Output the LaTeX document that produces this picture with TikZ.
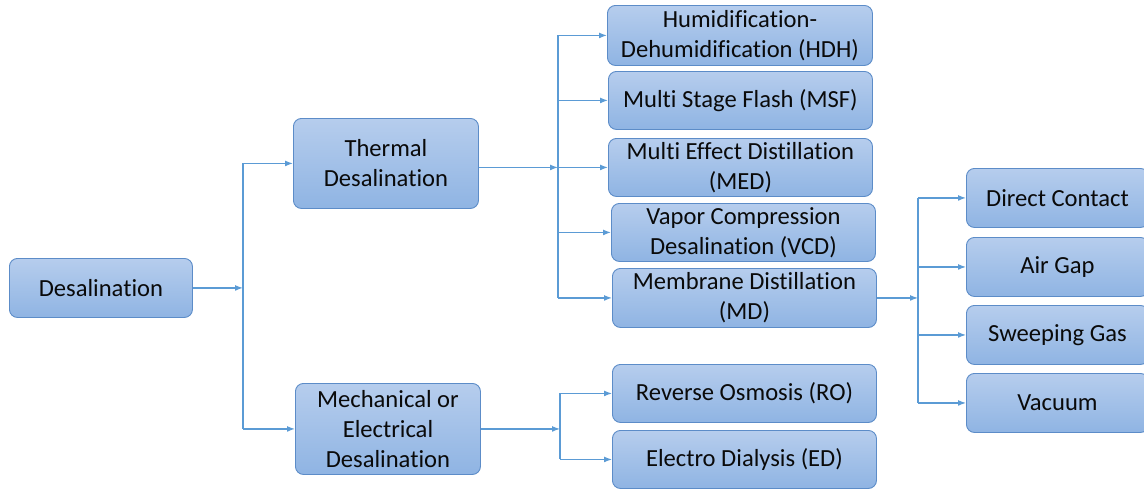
\documentclass[tikz,border=0pt]{standalone}
\usepackage{fontspec}
\setmainfont{Carlito}[Ligatures=NoCommon]
\usetikzlibrary{arrows.meta}
\definecolor{boxtop}{RGB}{182,205,237}
\definecolor{boxbot}{RGB}{143,180,227}
\definecolor{boxline}{RGB}{92,140,200}
\definecolor{wire}{RGB}{91,155,213}
\definecolor{txt}{RGB}{10,10,10}
\tikzset{
  box/.style={draw=boxline, line width=0.9pt, rounded corners=8pt, top color=boxtop, bottom color=boxbot,
    align=center, text=txt, font=\fontsize{24.6}{30}\selectfont, inner sep=0pt, anchor=north west},
  wireline/.style={draw=wire, line width=1.3pt},
  arr/.style={wireline, -{Latex[length=8pt,width=6pt]}}
}
\begin{document}
\begin{tikzpicture}[x=1pt,y=-1pt]
\useasboundingbox (0,0) rectangle (1144,488);
% boxes
\node[box, minimum width=183pt, minimum height=59pt] (des) at (9,258) {Desalination};
\node[box, minimum width=185pt, minimum height=90pt] (th) at (293,118) {Thermal\\Desalination};
\node[box, minimum width=185pt, minimum height=91pt] (me) at (295,383) {Mechanical or\\Electrical\\Desalination};
\node[box, minimum width=265pt, minimum height=60pt] (hdh) at (607,5) {Humidification-\\Dehumidification (HDH)};
\node[box, minimum width=264pt, minimum height=58pt] (msf) at (608,71) {Multi Stage Flash (MSF)};
\node[box, minimum width=264pt, minimum height=58pt] (med) at (608,138) {Multi Effect Distillation\\(MED)};
\node[box, minimum width=264pt, minimum height=58pt] (vcd) at (611,203) {Vapor Compression\\Desalination (VCD)};
\node[box, minimum width=264pt, minimum height=59pt] (md) at (612,268) {Membrane Distillation\\(MD)};
\node[box, minimum width=264pt, minimum height=58pt] (ro) at (612,364) {Reverse Osmosis (RO)};
\node[box, minimum width=264pt, minimum height=58pt] (ed) at (612,430) {Electro Dialysis (ED)};
\node[box, minimum width=182pt, minimum height=59pt] (dc) at (966,168) {Direct Contact};
\node[box, minimum width=182pt, minimum height=59pt] (ag) at (966,237) {Air Gap};
\node[box, minimum width=182pt, minimum height=59pt] (sg) at (966,305) {Sweeping Gas};
\node[box, minimum width=182pt, minimum height=59pt] (va) at (966,373) {Vacuum};
% bus positions
\coordinate (b1) at (243,0);
\coordinate (b2) at (558,0);
\coordinate (b3) at (918,0);
\coordinate (b4) at (560,0);
% desalination -> thermal / mechanical
\draw[arr] (des.east) -- (des.east -| b1);
\draw[wireline] (th.west -| b1) -- (me.west -| b1);
\draw[arr] (th.west -| b1) -- (th.west);
\draw[arr] (me.west -| b1) -- (me.west);
% thermal -> processes
\draw[arr] (th.east |- med.west) -- (med.west -| b2);
\draw[wireline] (hdh.west -| b2) -- (md.west -| b2);
\draw[arr] (hdh.west -| b2) -- (hdh.west);
\draw[arr] (msf.west -| b2) -- (msf.west);
\draw[arr] (med.west -| b2) -- (med.west);
\draw[arr] (vcd.west -| b2) -- (vcd.west);
\draw[arr] (md.west -| b2) -- (md.west);
% MD -> types
\draw[arr] (md.east) -- (md.east -| b3);
\draw[wireline] (dc.west -| b3) -- (va.west -| b3);
\draw[arr] (dc.west -| b3) -- (dc.west);
\draw[arr] (ag.west -| b3) -- (ag.west);
\draw[arr] (sg.west -| b3) -- (sg.west);
\draw[arr] (va.west -| b3) -- (va.west);
% mechanical -> RO / ED
\draw[arr] (me.east) -- (me.east -| b4);
\draw[wireline] (ro.west -| b4) -- (ed.west -| b4);
\draw[arr] (ro.west -| b4) -- (ro.west);
\draw[arr] (ed.west -| b4) -- (ed.west);
\end{tikzpicture}
\end{document}
